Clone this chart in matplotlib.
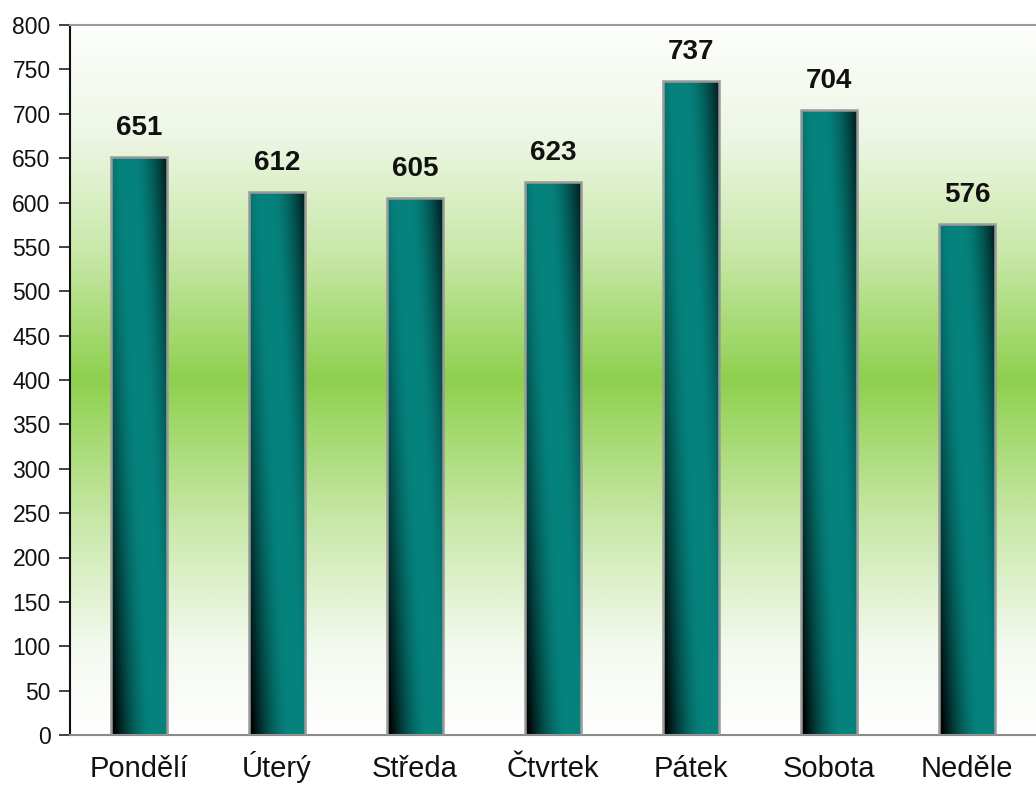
import numpy as np
import matplotlib
matplotlib.use("Agg")
import matplotlib.pyplot as plt
from matplotlib.colors import LinearSegmentedColormap

days = ["Pondělí", "Úterý", "Středa", "Čtvrtek", "Pátek", "Sobota", "Neděle"]
values = [651, 612, 605, 623, 737, 704, 576]
yticks = list(range(0, 801, 50))

plt.rcParams['font.family'] = ['Liberation Sans', 'DejaVu Sans']

fig = plt.figure(figsize=(10.36, 7.85), dpi=100)
ax = fig.add_axes([70/1036, 1 - 735/785, 1 - 70/1036, (735 - 25)/785])

# background gradient
bg_cmap = LinearSegmentedColormap.from_list(
    "bg", [(0.0, "#ffffff"), (0.12, "#f4faf0"), (0.30, "#c8e8a8"),
           (0.50, "#8ed04e"), (0.68, "#c8e8a8"), (0.85, "#eef7e6"), (1.0, "#fdfefc")])
grad = np.linspace(0, 1, 512).reshape(-1, 1)
ax.imshow(grad, aspect="auto", cmap=bg_cmap, extent=[0, 1, 0, 1],
          transform=ax.transAxes, zorder=0, origin="lower")

x = np.arange(len(days))
bars = ax.bar(x, values, width=0.4, color="none", edgecolor="#9a9a9a",
              linewidth=1.8, zorder=3)

# bar gradient: bright teal along a diagonal, dark towards the edges
ny, nx = 200, 80
u = np.linspace(0, 1, nx)[None, :]
v = np.linspace(0, 1, ny)[:, None]
peak = 0.85 - 0.55 * v
d = np.abs(u - peak)
bright = np.clip(1 - (np.clip(d - 0.12, 0, None) / 0.68) ** 1.6, 0.03, 1)
teal = np.array([0.02, 0.51, 0.49])
img = np.clip(bright[..., None] * teal[None, None, :], 0, 1)

for b in bars:
    x0, y0 = b.get_x(), b.get_y()
    w, h = b.get_width(), b.get_height()
    im = ax.imshow(img, aspect="auto", extent=[x0, x0 + w, y0, y0 + h],
                   origin="lower", zorder=2, interpolation="bilinear")
    im.set_clip_path(b)
    ax.text(x0 + w / 2, y0 + h + 18, f"{int(h)}", ha="center", va="bottom",
            fontsize=20, fontweight="bold", color="#111111", zorder=4)

ax.set_xlim(-0.5, len(days) - 0.5)
ax.set_ylim(0, 800)
ax.set_yticks(yticks)
ax.set_yticklabels([str(t) for t in yticks], fontsize=16.5, color="#111111")
ax.set_xticks(x)
ax.set_xticklabels(days, fontsize=21, color="#111111", va="baseline")
ax.tick_params(axis="x", length=0, pad=30)
ax.tick_params(axis="y", length=8, width=1.2, direction="out", pad=6, color="#222222")

ax.spines["right"].set_visible(False)
ax.spines["top"].set_color("#9a9a9a")
ax.spines["top"].set_linewidth(1.5)
ax.spines["bottom"].set_color("#8a8a8a")
ax.spines["bottom"].set_linewidth(1.5)
ax.spines["left"].set_color("#111111")
ax.spines["left"].set_linewidth(1.5)

fig.savefig("out.png", dpi=100, facecolor="white")
